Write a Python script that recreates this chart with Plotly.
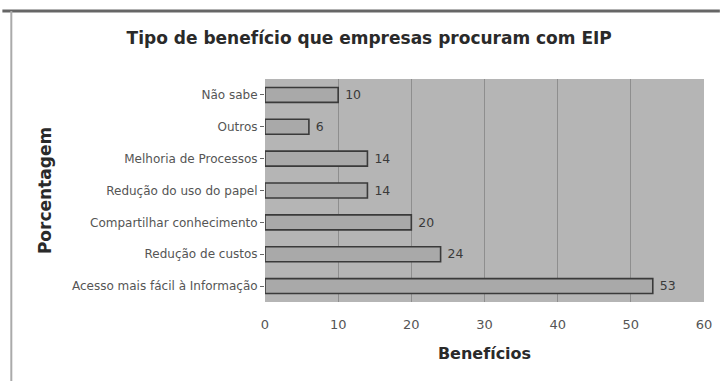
import plotly.graph_objects as go

categories = [
    "Acesso mais fácil à Informação",
    "Redução de custos",
    "Compartilhar conhecimento",
    "Redução do uso do papel",
    "Melhoria de Processos",
    "Outros",
    "Não sabe",
]
values = [53, 24, 20, 14, 14, 6, 10]
x_ticks = [0, 10, 20, 30, 40, 50, 60]

FONT = "DejaVu Sans, Arial"

fig = go.Figure(
    go.Bar(
        y=categories,
        x=values,
        orientation="h",
        width=0.47,
        marker=dict(color="#a9a9a9", line=dict(color="#3a3a3a", width=1.6)),
        text=["\u00a0" + str(v) for v in values],
        textposition="outside",
        textfont=dict(family=FONT, size=15, color="#3a3a3a"),
        cliponaxis=False,
    )
)

fig.update_layout(
    width=724,
    height=381,
    margin=dict(l=265, r=16, t=79, b=79),
    paper_bgcolor="white",
    plot_bgcolor="#b5b5b5",
    showlegend=False,
    title=dict(
        text="<b>Tipo de benefício que empresas procuram com EIP</b>",
        x=0.51,
        xanchor="center",
        y=1 - 38 / 381,
        yanchor="middle",
        font=dict(family=FONT, size=17, color="#2a2a2a"),
    ),
    xaxis=dict(
        range=[0, 60],
        tickvals=x_ticks,
        ticktext=[str(t) for t in x_ticks],
        showgrid=True,
        gridcolor="#8e8e8e",
        gridwidth=1,
        zeroline=False,
        showline=False,
        ticks="outside",
        ticklen=10,
        tickcolor="rgba(0,0,0,0)",
        tickfont=dict(family=FONT, size=13, color="#555"),
        title=dict(
            text="<b>Benefícios</b>",
            font=dict(family=FONT, size=16, color="#2a2a2a"),
            standoff=17,
        ),
    ),
    yaxis=dict(
        categoryorder="array",
        categoryarray=categories,
        showgrid=False,
        zeroline=False,
        showline=False,
        ticks="outside",
        ticklen=4,
        tickcolor="#666",
        tickfont=dict(family=FONT, size=12, color="#555"),
        title=dict(
            text="<b>Porcentagem</b>",
            font=dict(family=FONT, size=17, color="#2a2a2a"),
            standoff=15,
        ),
    ),
    bargap=0.5,
)

# outer frame lines (top and left)
fig.add_shape(type="line", xref="paper", yref="paper", x0=-265/443, x1=(724-265)/443,
              y0=(381-79-11)/223, y1=(381-79-11)/223, line=dict(color="#666", width=3))
fig.add_shape(type="line", xref="paper", yref="paper", x0=-256/443, x1=-256/443,
              y0=-79/223, y1=(381-79-11)/223, line=dict(color="#aaa", width=2))

fig.write_html("out.html")
